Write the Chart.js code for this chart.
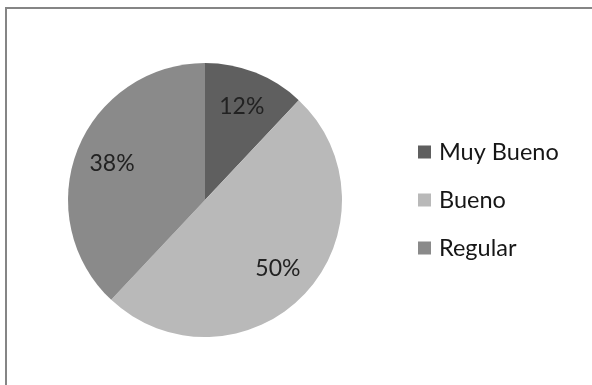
<!DOCTYPE html>
<html>
<head>
<meta charset="utf-8">
<script src="https://cdn.jsdelivr.net/npm/chart.js@4/dist/chart.umd.min.js"></script>
<style>
    html, body { margin: 0; padding: 0; background: #fff; }
    #wrap { position: relative; width: 592px; height: 385px; overflow: hidden; }
    #frame { position: absolute; left: 5px; top: 7px; width: 600px; height: 400px; border: 2px solid #858585; box-sizing: border-box; }
    canvas { position: absolute; left: 0; top: 0; }
</style>
</head>
<body>
<div id="wrap">
    <div id="frame"></div>
    <canvas id="pie" width="592" height="385"></canvas>
</div>
<script>
const categories = ['Muy Bueno', 'Bueno', 'Regular'];
const percentValues = [12, 50, 38];
const sliceColors = ['#5f5f5f', '#b9b9b9', '#8a8a8a'];

const FONT = 'Lato, "Open Sans", sans-serif';

// percentage labels inside each slice
const sliceLabels = {
    id: 'sliceLabels',
    afterDatasetsDraw(chart) {
        const ctx = chart.ctx;
        const meta = chart.getDatasetMeta(0);
        ctx.save();
        ctx.font = '23px ' + FONT;
        ctx.fillStyle = '#222';
        ctx.textAlign = 'center';
        ctx.textBaseline = 'middle';
        meta.data.forEach((arc, i) => {
            const p = arc.getProps(['x', 'y', 'startAngle', 'endAngle', 'outerRadius']);
            const mid = (p.startAngle + p.endAngle) / 2;
            const r = p.outerRadius * 0.73;
            ctx.fillText(percentValues[i] + '%', p.x + Math.cos(mid) * r, p.y + Math.sin(mid) * r);
        });
        ctx.restore();
    }
};

// legend on the right, drawn from the chart data
const sideLegend = {
    id: 'sideLegend',
    afterDraw(chart) {
        const ctx = chart.ctx;
        const x0 = 418, y0 = 152, step = 48, box = 13;
        ctx.save();
        ctx.font = '23.5px ' + FONT;
        ctx.textBaseline = 'middle';
        chart.data.labels.forEach((label, i) => {
            const y = y0 + i * step;
            ctx.fillStyle = chart.data.datasets[0].backgroundColor[i];
            ctx.fillRect(x0, y - box / 2, box, box);
            ctx.fillStyle = '#161616';
            ctx.fillText(label, x0 + 21, y);
        });
        ctx.restore();
    }
};

new Chart(document.getElementById('pie'), {
    type: 'pie',
    data: {
        labels: categories,
        datasets: [{
            data: percentValues,
            backgroundColor: sliceColors,
            borderWidth: 0
        }]
    },
    options: {
        responsive: false,
        animation: false,
        layout: { padding: { left: 68, top: 63, right: 250, bottom: 48 } },
        plugins: {
            legend: { display: false },
            tooltip: { enabled: false }
        }
    },
    plugins: [sliceLabels, sideLegend]
});
</script>
</body>
</html>
